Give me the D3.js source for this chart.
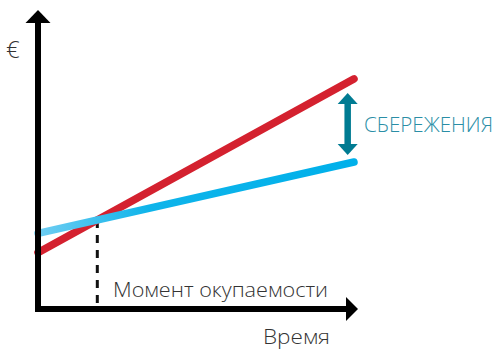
<!DOCTYPE html>
<html><head><meta charset="utf-8">
<script src="https://cdn.jsdelivr.net/npm/d3@7"></script>
<style>html,body{margin:0;padding:0;background:#fff;}svg{display:block;}</style>
</head><body>
<svg id="c" width="497" height="349"></svg>
<script>
// Data
const time = [0, 10];
const costRed = [18.8, 76.7];   // upper (steeper) line
const costBlue = [25.2, 49.0];  // lower (flatter) line
const labels = { y: "€", x: "Время", breakEven: "Момент окупаемости", savings: "СБЕРЕЖЕНИЯ" };

const svg = d3.select("#c");
const x = d3.scaleLinear().domain([0, 10]).range([38, 354]);
const y = d3.scaleLinear().domain([0, 100]).range([309, 9]);

const defs = svg.append("defs");
const grad = defs.append("linearGradient").attr("id", "bg")
  .attr("gradientUnits", "userSpaceOnUse")
  .attr("x1", x(0)).attr("x2", x(10)).attr("y1", 0).attr("y2", 0);
grad.append("stop").attr("offset", "0%").attr("stop-color", "#6fcdf2");
grad.append("stop").attr("offset", "35%").attr("stop-color", "#0fb4ea");
grad.append("stop").attr("offset", "100%").attr("stop-color", "#00b0ea");

const line = d3.line().x(d => x(d[0])).y(d => y(d[1]));

// intersection (break-even)
const sR = (costRed[1] - costRed[0]) / (time[1] - time[0]);
const sB = (costBlue[1] - costBlue[0]) / (time[1] - time[0]);
const tI = (costBlue[0] - costRed[0]) / (sR - sB);
const vI = costRed[0] + sR * tI;

// dashed vertical
svg.append("line")
  .attr("x1", x(tI)).attr("x2", x(tI))
  .attr("y1", y(vI)).attr("y2", y(0))
  .attr("stroke", "#111").attr("stroke-width", 3)
  .attr("stroke-dasharray", "8,7");

svg.append("path").datum(time.map((t, i) => [t, costRed[i]]))
  .attr("d", line).attr("fill", "none").attr("stroke", "#d4212f")
  .attr("stroke-width", 7.5).attr("stroke-linecap", "round");
svg.append("path").datum(time.map((t, i) => [t, costBlue[i]]))
  .attr("d", line).attr("fill", "none").attr("stroke", "url(#bg)")
  .attr("stroke-width", 7.5).attr("stroke-linecap", "round");

// axes
const ax = svg.append("g");
ax.append("line").attr("x1", x(0)).attr("x2", x(0)).attr("y1", y(0) + 3).attr("y2", 20)
  .attr("stroke", "#000").attr("stroke-width", 6);
ax.append("path").attr("d", `M${x(0) - 12.5},23 L${x(0)},10 L${x(0) + 12.5},23 Z`).attr("fill", "#000");
ax.append("line").attr("x1", x(0) - 3).attr("x2", 348).attr("y1", y(0)).attr("y2", y(0))
  .attr("stroke", "#000").attr("stroke-width", 6);
ax.append("path").attr("d", `M346,${y(0) - 12} L358,${y(0)} L346,${y(0) + 12} Z`).attr("fill", "#000");

// savings arrow near t = 10
const ax2 = x(9.8);
const topV = y(costRed[1]) + 14, botV = y(costBlue[1]) - 7;
svg.append("line").attr("x1", ax2).attr("x2", ax2).attr("y1", topV + 8).attr("y2", botV - 8)
  .attr("stroke", "#007b92").attr("stroke-width", 6.5);
svg.append("path").attr("d", `M${ax2 - 10},${topV + 11} L${ax2},${topV} L${ax2 + 10},${topV + 11} Z`).attr("fill", "#007b92");
svg.append("path").attr("d", `M${ax2 - 10},${botV - 11} L${ax2},${botV} L${ax2 + 10},${botV - 11} Z`).attr("fill", "#007b92");

const font = "'Open Sans', 'Noto Sans', sans-serif";
svg.append("text").attr("x", 364).attr("y", 131.5).text(labels.savings)
  .attr("font-family", font).attr("font-size", 21).attr("font-weight", 350)
  .attr("fill", "#2a8ea6").attr("textLength", 129).attr("lengthAdjust", "spacingAndGlyphs");
svg.append("text").attr("x", 113).attr("y", 296.5).text(labels.breakEven)
  .attr("font-family", font).attr("font-size", 21).attr("font-weight", 350)
  .attr("fill", "#333").attr("textLength", 215).attr("lengthAdjust", "spacingAndGlyphs");
svg.append("text").attr("x", 263).attr("y", 343.5).text(labels.x)
  .attr("font-family", font).attr("font-size", 20.5).attr("font-weight", 350)
  .attr("fill", "#333").attr("textLength", 67).attr("lengthAdjust", "spacingAndGlyphs");
svg.append("text").attr("x", 6).attr("y", 58).text(labels.y)
  .attr("font-family", font).attr("font-size", 24).attr("font-weight", 300)
  .attr("fill", "#333");
</script>
</body></html>
